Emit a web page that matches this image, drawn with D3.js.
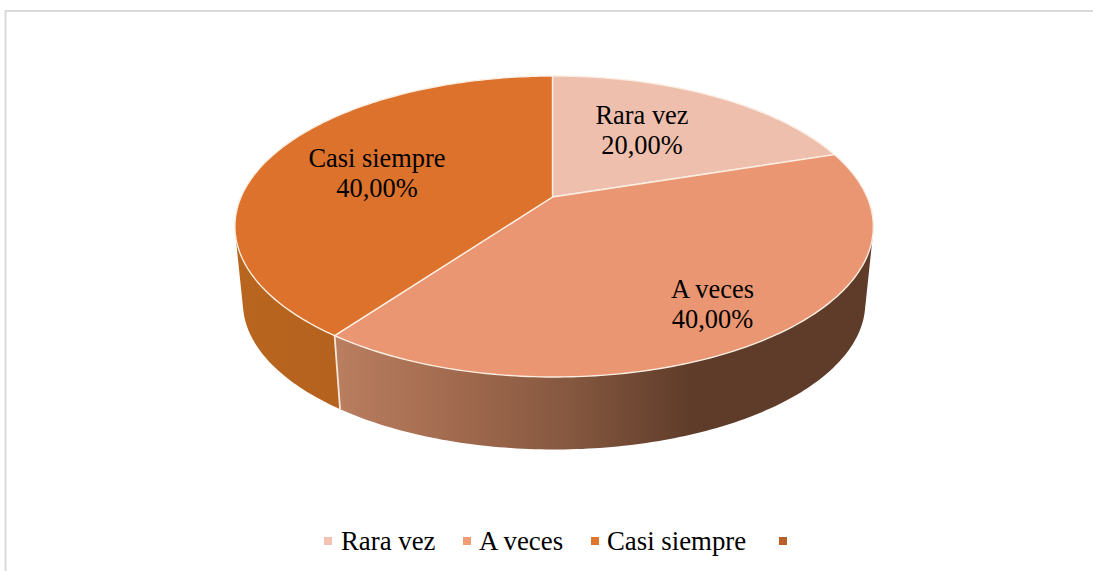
<!DOCTYPE html>
<html><head><meta charset="utf-8">
<script src="https://cdn.jsdelivr.net/npm/d3@7"></script>
<style>html,body{margin:0;padding:0;background:#fff;overflow:hidden}text{font-family:"Liberation Serif","Times New Roman",serif;fill:#000}</style>
</head><body><svg id="c" width="1093" height="571"></svg>
<script>
const categories=["Rara vez","A veces","Casi siempre"];
const values=[20,40,40];
const percentLabels=["20,00%","40,00%","40,00%"];
const topColors=["#efbfae","#ea9672","#dc722c"];
const wallStops=[["#d9a68f","#d9a68f"],["#b97d5f","#a16a4e","#84573f","#5f3c2a"],["#b8651f","#b5621f"]];
const legendColors=["#f5c3b2","#f09c75","#e0762c","#b9602a"];
const legendNames=["Rara vez","A veces","Casi siempre",""];

const svg=d3.select("#c");
svg.append("rect").attr("x",5.5).attr("y",11).attr("width",1200).attr("height",700)
  .attr("fill","#fff").attr("stroke","#d9d9d9").attr("stroke-width",2);

const cx=552.5, cy=197, ax=313, by=144.7, k=-0.196, m=-0.005;
const proj=(t)=>{const x=Math.sin(t),y=-Math.cos(t),d=1+k*y+m*x;return [cx+ax*x/d,cy+by*y/d];};
const shrink=0.975, drop=77;
const lower=(p)=>[cx+(p[0]-cx)*shrink,cy+(p[1]-cy)*shrink+drop];
const arcs=d3.pie().sort(null).value(d=>d)(values);
const samples=(a,b,n=160)=>d3.range(n+1).map(i=>a+(b-a)*i/n);
const line=d3.line();

const defs=svg.append("defs");
const xs=d3.scaleLinear().domain([0,1]).range([340,690]);
wallStops.forEach((st,i)=>{
  const g=defs.append("linearGradient").attr("id","w"+i).attr("gradientUnits","userSpaceOnUse")
    .attr("x1",i==2?240:xs(0)).attr("x2",i==2?342:xs(1)).attr("y1",0).attr("y2",0);
  st.forEach((c,j)=>g.append("stop").attr("offset",j/(st.length-1)).attr("stop-color",c));
});

// walls: one compound path per slice, each strip wound the same way so none cancels
const wound=(q)=>d3.polygonArea(q)<0?q.slice().reverse():q;
arcs.forEach((a,i)=>{
  const top=samples(a.startAngle,a.endAngle).map(proj), bot=top.map(lower);
  const d=d3.pairs(d3.range(top.length)).map(([p,q])=>line(wound([top[p],top[q],bot[q],bot[p]]))+"Z").join("");
  svg.append("path").attr("d",d).attr("fill",`url(#w${i})`).attr("fill-rule","nonzero");
});
const seam=proj(arcs[2].startAngle);
svg.append("path").attr("d",line([seam,lower(seam)])).attr("stroke","#f6e6d8").attr("stroke-width",1.8).attr("fill","none");

// top faces
arcs.forEach((a,i)=>{
  const pts=[[cx,cy],...samples(a.startAngle,a.endAngle).map(proj)];
  svg.append("path").attr("d",line(pts)+"Z").attr("fill",topColors[i])
    .attr("stroke","#fbeee3").attr("stroke-width",1.4).attr("stroke-linejoin","round");
});

// data labels
const labelX=[642,712.5,377], labelY=[124,298,167];
arcs.forEach((a,i)=>{
  const t=svg.append("text").attr("text-anchor","middle").attr("font-size",26.4);
  t.append("tspan").attr("x",labelX[i]).attr("y",labelY[i]).text(categories[i]);
  t.append("tspan").attr("x",labelX[i]).attr("y",labelY[i]+30).text(percentLabels[i]);
});

// legend
const legX=[324,463,591,779], textX=[341,479,607,0];
legendNames.forEach((n,i)=>{
  svg.append("rect").attr("x",legX[i]).attr("y",537).attr("width",8).attr("height",8).attr("fill",legendColors[i]);
  if(n) svg.append("text").attr("x",textX[i]).attr("y",550).attr("font-size",26.8).text(n);
});
</script></body></html>
